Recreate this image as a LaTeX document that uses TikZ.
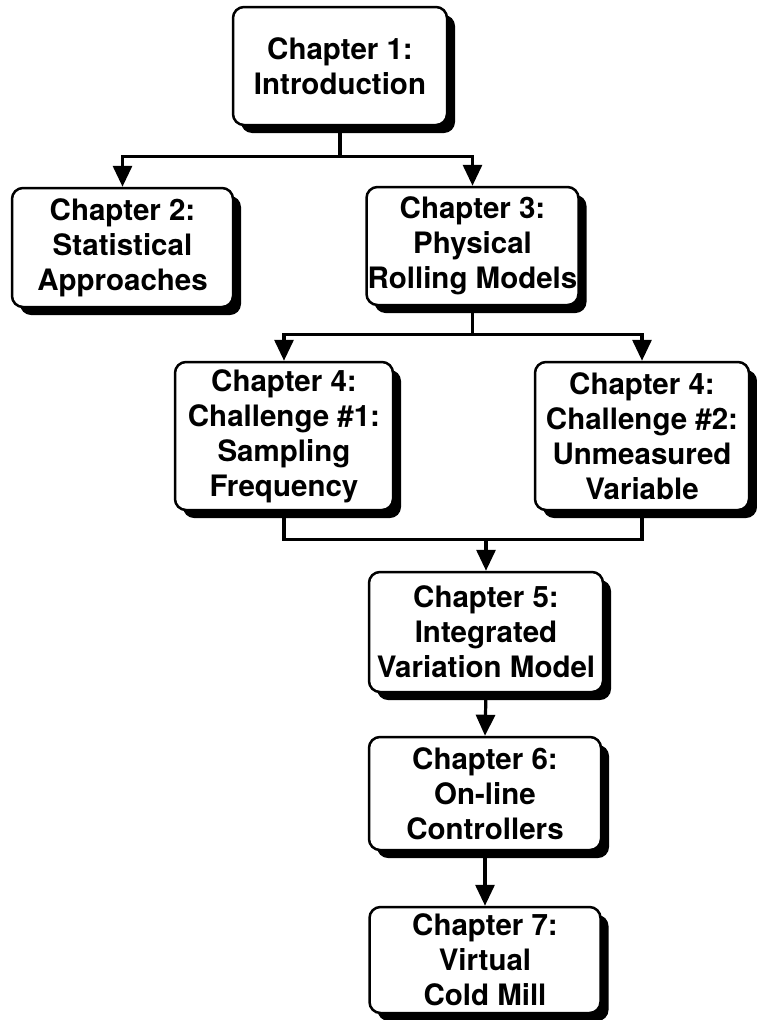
\documentclass[tikz,border=0pt]{standalone}
\usepackage{fontspec}
\setmainfont{TeX Gyre Heros}
\usetikzlibrary{arrows.meta,shadows,calc}
\begin{document}
\begin{tikzpicture}[x=1pt,y=-1pt,
  box/.style={draw=black, line width=2.5pt, rounded corners=11pt, fill=white, align=center, inner sep=0pt,
    font=\bfseries\fontsize{29.5}{35}\selectfont,
    drop shadow={fill=black, opacity=1, shadow xshift=8pt, shadow yshift=-8pt}},
  conn/.style={line width=3.2pt},
  arr/.style={conn, -{Triangle[width=19pt,length=21pt]}}]
\useasboundingbox (0,0) rectangle (757,1020);
\node[box, minimum width=214pt, minimum height=118pt] (b1) at (340,66) {Chapter 1:\\Introduction};
\node[box, minimum width=221pt, minimum height=119pt] (b2) at (122.5,247.5) {Chapter 2:\\Statistical\\Approaches};
\node[box, minimum width=212pt, minimum height=118pt] (b3) at (472.5,246) {Chapter 3:\\Physical\\Rolling Models};
\node[box, minimum width=218pt, minimum height=148pt] (b4a) at (284,436) {Chapter 4:\\Challenge \#1:\\Sampling\\Frequency};
\node[box, minimum width=214pt, minimum height=148pt] (b4b) at (642,436) {Chapter 4:\\Challenge \#2:\\Unmeasured\\Variable};
\node[box, minimum width=234pt, minimum height=120pt] (b5) at (486,632) {Chapter 5:\\Integrated\\Variation Model};
\node[box, minimum width=232pt, minimum height=113pt] (b6) at (485,793.5) {Chapter 6:\\On-line\\Controllers};
\node[box, minimum width=231pt, minimum height=106pt] (b7) at (485,960) {Chapter 7:\\Virtual\\Cold Mill};

\draw[conn] (b1.south) -- ++(0,30) coordinate (j1);
\draw[arr] (j1) -| (b2.north);
\draw[arr] (j1) -| (b3.north);

\draw[conn] (b3.south) -- ++(0,28) coordinate (j2);
\draw[arr] (j2) -| (b4a.north);
\draw[arr] (j2) -| (b4b.north);

\draw[conn] (b4a.south) -- ++(0,28) coordinate (j3) -| (b4b.south);
\draw[arr] (b5.north |- j3) -- (b5.north);

\draw[arr] (b5.south) -- (b6.north);
\draw[arr] (b6.south) -- (b7.north);
\end{tikzpicture}
\end{document}
